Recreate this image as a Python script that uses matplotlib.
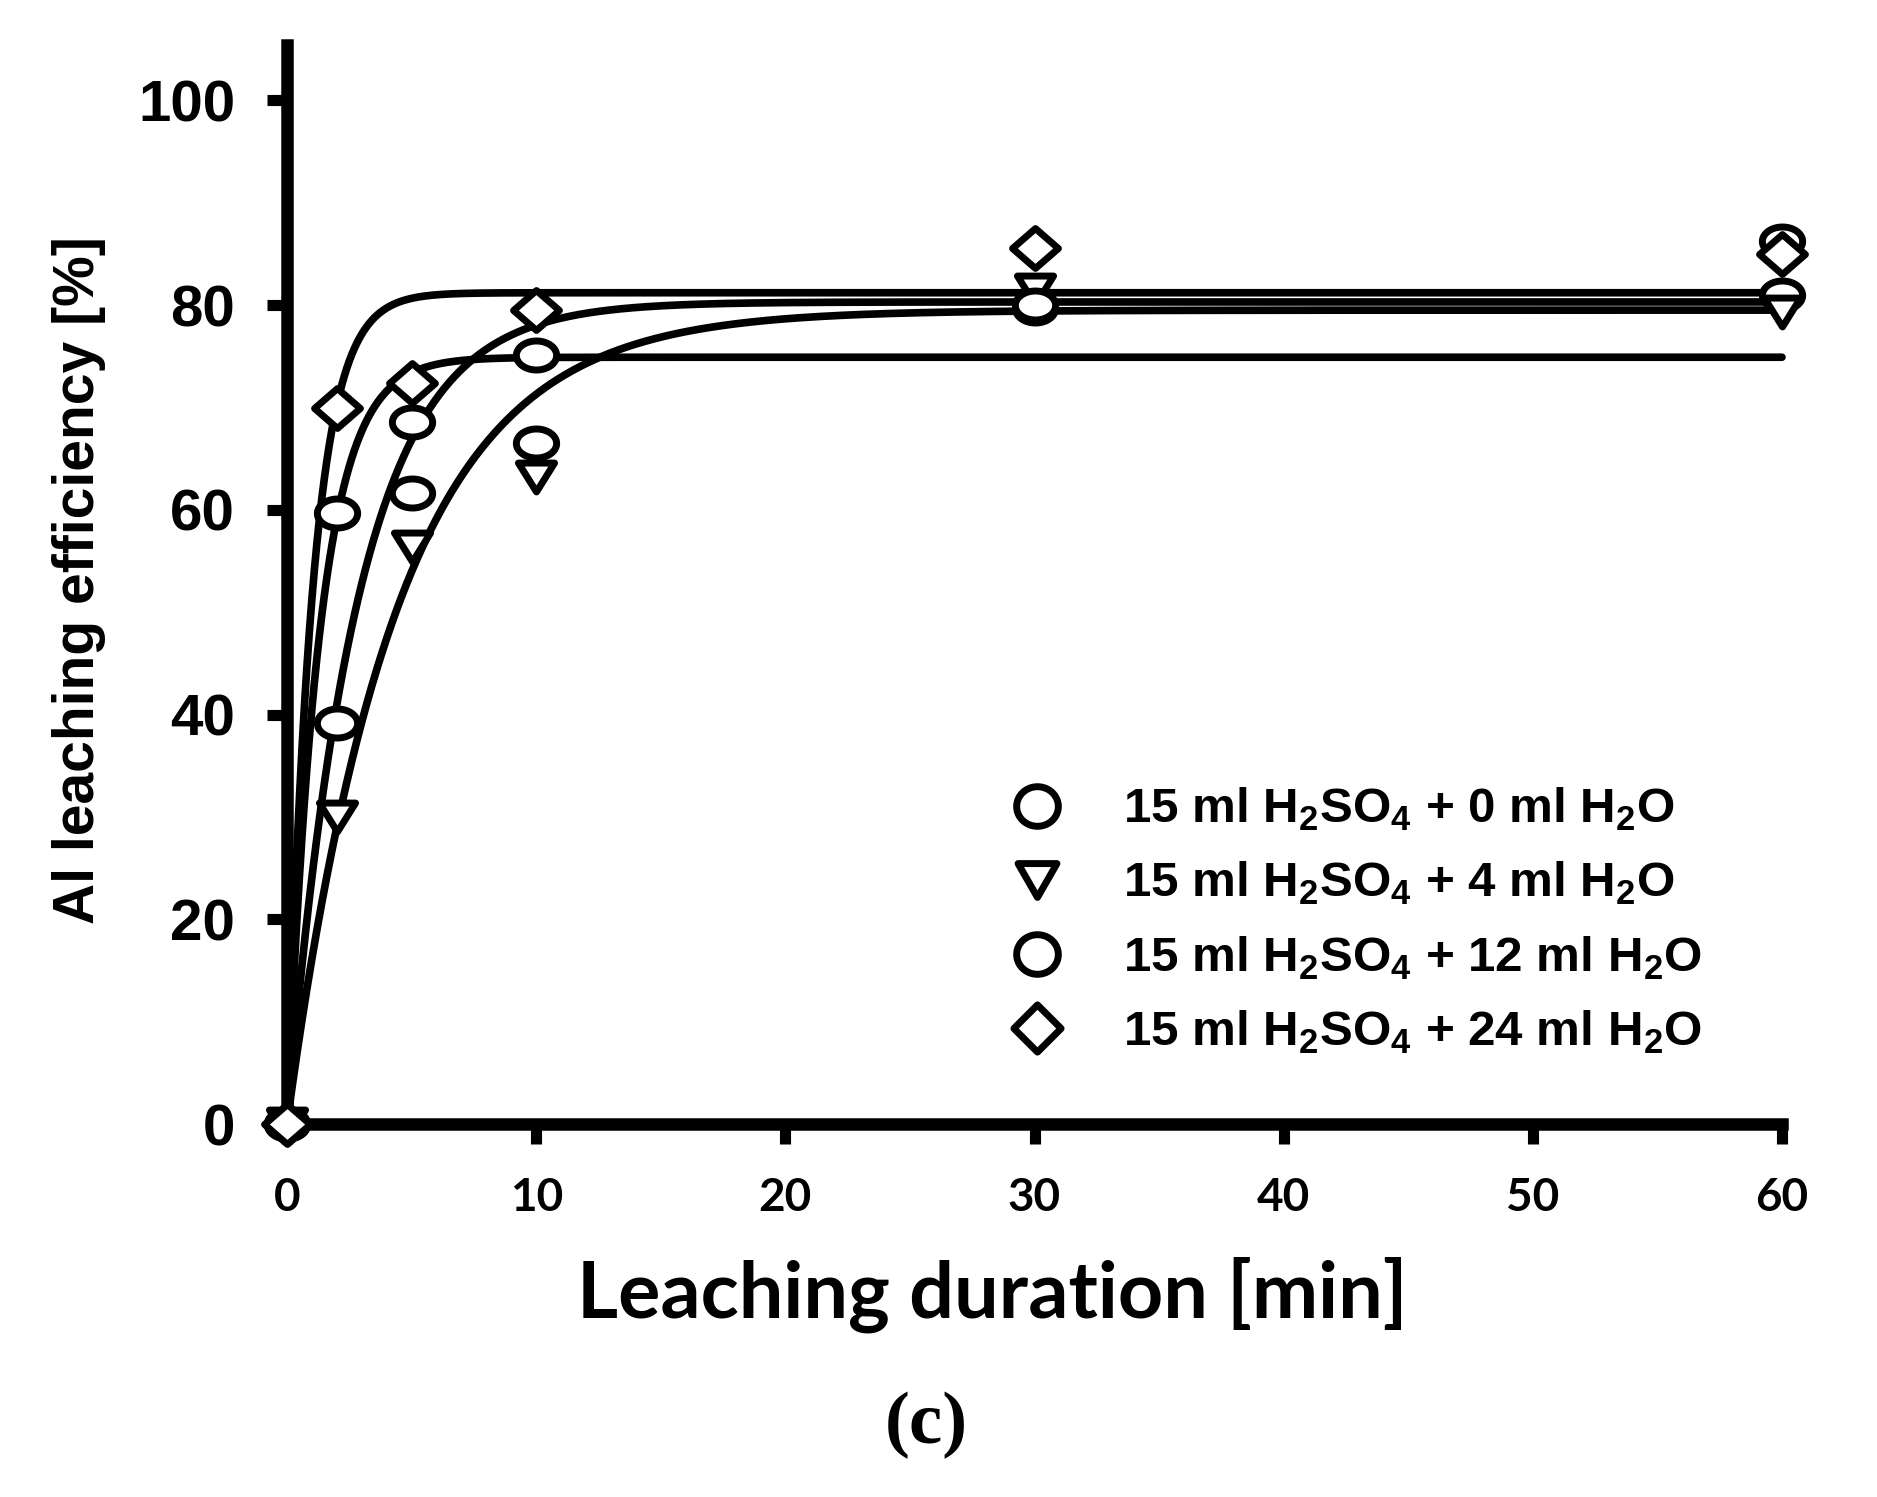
import matplotlib
matplotlib.use("Agg")
import matplotlib.pyplot as plt
import numpy as np
from matplotlib.path import Path
from matplotlib.lines import Line2D
from matplotlib.font_manager import FontProperties

# measured points, leaching efficiency [%] vs time [min]
time_min = [0, 2, 5, 10, 30, 60]
eff_0ml = [0, 39.2, 61.6, 66.5, 79.7, 81.0]
eff_4ml = [0, 30.0, 56.4, 63.2, 81.5, 79.3]
eff_12ml = [0, 59.7, 68.6, 75.1, 80.0, 86.3]
eff_24ml = [0, 69.9, 72.4, 79.5, 85.6, 85.0]

# first-order fit curves: plateau [%] and rate [1/min]
fit_plateau = [80.3, 79.5, 74.9, 81.2]
fit_rate = [0.357, 0.227, 0.78, 1.0]

labels = [r'15 ml H$_\mathregular{2}$SO$_\mathregular{4}$ + 0 ml H$_\mathregular{2}$O',
          r'15 ml H$_\mathregular{2}$SO$_\mathregular{4}$ + 4 ml H$_\mathregular{2}$O',
          r'15 ml H$_\mathregular{2}$SO$_\mathregular{4}$ + 12 ml H$_\mathregular{2}$O',
          r'15 ml H$_\mathregular{2}$SO$_\mathregular{4}$ + 24 ml H$_\mathregular{2}$O']

x_ticks = [0, 10, 20, 30, 40, 50, 60]
y_ticks = [0, 20, 40, 60, 80, 100]

plt.rcParams['mathtext.fontset'] = 'custom'
plt.rcParams['mathtext.rm'] = 'Liberation Sans:bold'


def oval(aspect):
    th = np.linspace(0, 2 * np.pi, 73)
    return Path(np.column_stack([np.cos(th), aspect * np.sin(th)]), closed=True)


def diamond(aspect):
    return Path([(0, aspect), (1, 0), (0, -aspect), (-1, 0), (0, aspect)], closed=True)


def tri_down(aspect):
    return Path([(-1, aspect), (1, aspect), (0, -aspect), (-1, aspect)], closed=True)


W, H = 1877, 1497
fig = plt.figure(figsize=(W / 100, H / 100), dpi=100)
ax = fig.add_axes([287 / W, 1 - 1124 / H, (1782 - 287) / W, (1124 - 45) / H])

t = np.linspace(0, 60, 1200)
for A, k in zip(fit_plateau, fit_rate):
    ax.plot(t, A * (1 - np.exp(-k * t)), color='black', lw=5.5, zorder=2,
            clip_on=False, solid_capstyle='round')

series = [eff_0ml, eff_4ml, eff_12ml, eff_24ml]
plot_markers = [(oval(0.72), 29), (tri_down(0.8), 26), (oval(0.72), 29), (diamond(0.87), 33)]
for i, (y, (m, ms)) in enumerate(zip(series, plot_markers)):
    ax.plot(time_min, y, ls='none', marker=m, ms=ms, mfc='white', mec='black',
            mew=5, zorder=3 + i, clip_on=False)

ax.set_xlim(0, 60)
ax.set_ylim(0, 105.4)
ax.set_xticks(x_ticks)
ax.set_yticks(y_ticks)
for s in ['top', 'right']:
    ax.spines[s].set_visible(False)
for s in ['left', 'bottom']:
    ax.spines[s].set_linewidth(9)
ax.tick_params(axis='both', direction='out', length=14.4, width=8, color='black')
ax.tick_params(axis='y', pad=23)
ax.tick_params(axis='x', pad=24)
for lab in ax.get_yticklabels():
    lab.set_fontproperties(FontProperties(family=['Liberation Sans', 'DejaVu Sans'],
                                          weight='bold', size=42))
for lab in ax.get_xticklabels():
    lab.set_fontproperties(FontProperties(family=['Lato', 'DejaVu Sans'],
                                          weight='bold', size=33))

# legend
leg_markers = [(oval(0.95), 30), (tri_down(0.87), 28), (oval(0.95), 30), (diamond(1.0), 34)]
handles = [Line2D([], [], ls='none', marker=m, ms=ms, mfc='white', mec='black', mew=5)
           for m, ms in leg_markers]
ax.legend(handles, labels, loc='upper left', bbox_to_anchor=(1012 / W, 1 - 786 / H),
          bbox_transform=fig.transFigure, frameon=False, borderpad=0, borderaxespad=0,
          handlelength=1.0, handletextpad=1.25, labelspacing=0.55,
          prop=FontProperties(family=['Liberation Sans', 'DejaVu Sans'], weight='bold', size=35.5))

fig.text(79 / W, 1 - 580 / H, 'Al leaching efficiency [%]', rotation=90,
         ha='center', va='center', fontsize=41, fontweight='bold',
         family=['Liberation Sans', 'DejaVu Sans'])
fig.text(992 / W, 1 - 1318 / H, 'Leaching duration [min]', ha='center', va='baseline',
         fontsize=57, fontweight='bold', family=['Lato', 'DejaVu Sans'])
fig.text(926 / W, 1 - 1425 / H, '(c)', ha='center', va='center', fontsize=54,
         fontweight='bold', family=['Liberation Serif', 'DejaVu Serif'])

fig.savefig('out.png', dpi=100)
